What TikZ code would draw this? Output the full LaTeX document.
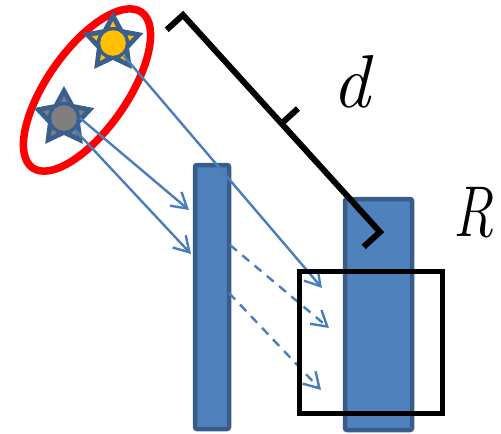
\documentclass[tikz,border=0pt]{standalone}
\usetikzlibrary{arrows.meta}
\definecolor{barfill}{HTML}{4F81BD}
\definecolor{bardraw}{HTML}{385D8A}
\definecolor{raycol}{HTML}{4A7EBB}
\definecolor{goldc}{HTML}{FFC000}
\definecolor{grayc}{HTML}{7F7F7F}
\definecolor{stardark}{HTML}{3A5E8E}
\begin{document}
\begin{tikzpicture}[x=1pt,y=-1pt,
  bar/.style={draw=bardraw,fill=barfill,line width=4.5pt,rounded corners=2pt,inner sep=0pt,outer sep=0pt},
  boxr/.style={draw=black,line width=5pt,inner sep=0pt,outer sep=0pt},
  ray/.style={draw=raycol,line width=2.4pt,-{Straight Barb[length=15pt,width=18pt]}},
  dray/.style={ray,dash pattern=on 9pt off 7pt},
  brace/.style={draw=black,line width=6pt,line join=miter},
  lbl/.style={inner sep=0pt,outer sep=0pt,anchor=base},
  pics/starpic/.style={code={
    \fill[stardark] (270:32) -- (306:17) -- (342:32) -- (18:17) -- (54:32) -- (90:17) -- (126:32) -- (162:17) -- (198:32) -- (234:17) -- cycle;
    \foreach \a in {270,342,54,126,198} \fill[#1] (\a:22) -- (\a+10:16.5) -- (\a-10:16.5) -- cycle;
    \fill[#1] (0,0) circle (12.8pt);
  }}]
\useasboundingbox (0,0) rectangle (501,434);
% red ellipse
\draw[red,line width=7.5pt,rotate around={55:(87,90)}] (87,90) ellipse[x radius=95pt,y radius=40pt];
% stars
\pic (s1) at (113,43) {starpic=goldc};
\pic (s2) at (64,118) {starpic=grayc};
% bars
\node[bar,minimum width=34pt,minimum height=264pt] (bar1) at (212,297) {};
\node[bar,minimum width=67pt,minimum height=231pt] (bar2) at (378.5,314.5) {};
% ray coordinates
\coordinate (a1s) at (124,56);
\coordinate (a1e) at (322,288);
\coordinate (a2s) at (80,118);
\coordinate (a2e) at (189,210);
\coordinate (a2ds) at (230,245);
\coordinate (a2de) at (329,328);
\coordinate (a3s) at (75,130);
\coordinate (a3e) at (191,254);
\coordinate (a3ds) at (229,293);
\coordinate (a3de) at (321,390);
\draw[ray] (a1s) -- (a1e);
\draw[ray] (a2s) -- (a2e);
\draw[ray] (a3s) -- (a3e);
\draw[dray] (a2ds) -- (a2de);
\draw[dray] (a3ds) -- (a3de);
% box
\node[boxr,minimum width=143pt,minimum height=142pt] (box) at (371,342.5) {};
% brace
\coordinate (e1) at (166.7,29.8);
\coordinate (c1) at (183,15);
\coordinate (c2) at (380,232);
\coordinate (e2) at (363.7,246.8);
\coordinate (m) at (281.5,123.5);
\coordinate (t) at (298,108.5);
\draw[brace] (e1) -- (c1) -- (c2) -- (e2);
\draw[brace] (m) -- (t);
% labels
\node[lbl] (dl) at (351,107) {\fontsize{75}{75}\selectfont\itshape d};
\node[lbl] (rl) at (474,236) {\scalebox{0.78}[1]{\fontsize{72}{72}\selectfont\itshape R}};
\end{tikzpicture}
\end{document}
